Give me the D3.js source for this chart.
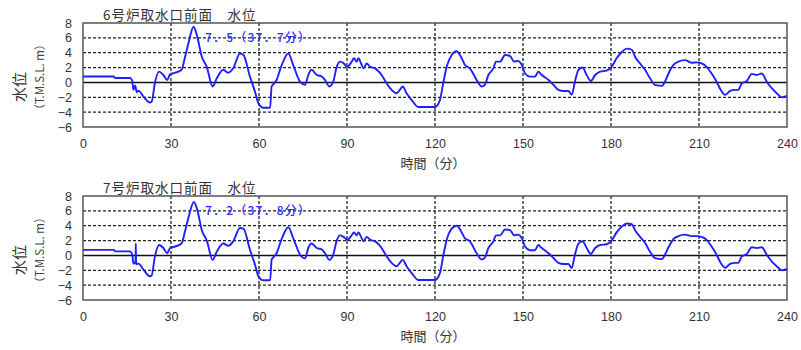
<!DOCTYPE html>
<html>
<head>
<meta charset="utf-8">
<script src="https://cdn.jsdelivr.net/npm/d3@7"></script>
<style>
  body { margin: 0; background: #fff; }
  svg text { font-family: "Liberation Sans", Arial, "Noto Sans CJK JP", sans-serif; fill: #333; }
  .jp { font-family: "Noto Sans CJK JP", sans-serif; }
</style>
</head>
<body>
<div id="vis"></div>
<script>
// time (minutes) and water level (T.M.S.L. m)
var unit6Time = [0, 10.5, 11, 16, 16.8, 17.2, 17.8, 18.3, 18.9, 20.6, 22.8, 23.4, 24.5, 25.9, 27.4, 28.7, 29.7, 31.4, 33.6, 34.8,
  35.9, 37.7, 38.8, 40.5, 42.2, 44.2, 45.6, 47.8, 49.5, 51.2, 53.5, 54.7, 56.9, 58.6, 59.8, 61.5, 63.8, 64.3, 64.8, 66.0,
  67.7, 70.0, 71.7, 74.0, 75.7, 76.8, 77.9, 79.7, 81.4, 82.5, 84.0, 85.3, 86.5, 87.6, 88.8, 90.1, 91.6, 92.4, 93.3, 93.9,
  94.8, 95.6, 96.7, 97.9, 99.6, 101.8, 103.5, 105.2, 106.9, 108, 109.0, 110.3, 112.0, 114.3, 120.0, 121.7, 122.8, 124.0, 125.7, 127.4,
  129.1, 130.2, 131.9, 134.2, 135.9, 137, 138.2, 139.9, 140.8, 142.2, 143.9, 145.6, 147.0, 148.2, 149.6, 150.7, 152.4, 154.1, 155.2, 156.4,
  158.7, 160.4, 162.1, 163.8, 165.5, 166.6, 167.7, 168.9, 170.3, 171.7, 173.1, 174.6, 176.3, 178.5, 180.2, 181.9, 183.7, 185.4, 187.1, 188.2,
  189.9, 191.6, 193.3, 195.0, 197.3, 198.4, 199.6, 201.3, 203.0, 205.2, 207.5, 209.4, 210.9, 212.6, 214.3, 216.0, 217.4, 218.9, 220.6, 222.3,
  223.4, 224.6, 226.3, 228.0, 229.7, 231.4, 233.1, 234.8, 236.5, 238.2, 240];
var unit6Level = [0.8, 0.8, 0.6, 0.6, 0.2, -1.0, -0.4, -1.3, -1.1, -1.9, -2.7, -2.6, -0.1, 1.45, 1.0, 0.33, 1.1, 1.3, 1.7, 3.45,
  5.2, 7.5, 6.4, 3.45, 2.1, -0.55, 0.55, 1.7, 1.3, 1.9, 3.9, 3.7, 0.8, -1.2, -2.8, -3.4, -3.4, -0.55, -0.3, 0.33,
  2.3, 3.9, 2.3, 0.1, -0.33, 1.0, 1.7, 1.0, 0.8, 0.33, -0.55, 0.1, 2.1, 2.8, 2.6, 2.1, 2.8, 3.25, 2.8, 3.25,
  2.55, 1.9, 2.55, 2.1, 1.9, 1.0, -0.1, -1.0, -1.45, -1.0, -0.55, -1.45, -2.35, -3.3, -3.3, -2.35, -0.1, 2.1, 3.7, 4.2,
  3.25, 2.35, 1.9, 0.33, -0.55, -0.3, 1.0, 1.9, 2.8, 2.8, 3.7, 3.55, 2.8, 2.9, 2.35, 1.2, 0.78, 0.78, 1.45, 1.0,
  0.33, -0.33, -1.0, -1.15, -1.15, -1.67, 0.1, 1.7, 2.0, 1.0, 0.2, 1.0, 1.45, 1.6, 2.1, 3.25, 4.1, 4.55, 4.4, 3.45,
  2.55, 1.7, 0.56, -0.33, -0.47, 0.1, 1.2, 2.35, 2.8, 3.0, 2.65, 2.7, 2.55, 2.1, 1.2, 0.1, -1.0, -1.67, -1.15, -1.0,
  -1.0, -0.1, 0.2, 1.15, 1.0, 1.2, 0.1, -0.78, -1.45, -2.0, -1.8];

var unit7Time = [0, 10.5, 11, 16, 16.8, 17.2, 17.9, 18.0, 18.1, 18.9, 20.6, 22.8, 23.4, 24.5, 25.9, 27.4, 28.7, 29.7, 31.4, 33.6, 34.8,
  35.9, 37.8, 38.9, 40.5, 42.2, 44.2, 45.6, 47.8, 49.5, 51.2, 53.5, 54.7, 56.9, 58.6, 59.8, 61.5, 63.8, 64.3, 64.8, 66.0,
  67.7, 70.0, 71.7, 74.0, 75.7, 76.8, 77.9, 79.7, 81.4, 82.5, 84.0, 85.3, 86.5, 87.6, 88.8, 90.1, 91.6, 92.4, 93.3, 93.9,
  94.8, 95.6, 96.7, 97.9, 99.6, 101.8, 103.5, 105.2, 106.9, 108, 109.0, 110.3, 112.0, 114.3, 120.0, 121.7, 122.8, 124.0, 125.7, 127.4,
  129.1, 130.2, 131.9, 134.2, 135.9, 137, 138.2, 139.9, 140.8, 142.2, 143.9, 145.6, 147.0, 148.2, 149.6, 150.7, 152.4, 154.1, 155.2, 156.4,
  158.7, 160.4, 162.1, 163.8, 165.5, 166.6, 167.7, 168.9, 170.3, 171.7, 173.1, 174.6, 176.3, 178.5, 180.2, 181.9, 183.7, 185.4, 187.1, 188.2,
  189.9, 191.6, 193.3, 195.0, 197.3, 198.4, 199.6, 201.3, 203.0, 205.2, 207.5, 209.4, 210.9, 212.6, 214.3, 216.0, 217.4, 218.9, 220.6, 222.3,
  223.4, 224.6, 226.3, 228.0, 229.7, 231.4, 233.1, 234.8, 236.5, 238.2, 240];
var unit7Level = [0.75, 0.75, 0.55, 0.55, 0.1, -1.1, -0.9, 1.6, -1.2, -1.1, -1.9, -2.8, -2.7, -0.2, 1.4, 1.0, 0.3, 1.0, 1.2, 1.6, 3.3,
  5.0, 7.2, 6.2, 3.4, 2.0, -0.6, 0.5, 1.6, 1.3, 1.9, 3.7, 3.6, 0.8, -1.2, -2.8, -3.35, -3.35, -0.6, -0.3, 0.3,
  2.2, 3.8, 2.3, 0.1, -0.4, 1.0, 1.6, 1.0, 0.8, 0.3, -0.6, 0.1, 2.0, 2.7, 2.5, 2.1, 2.7, 3.1, 2.7, 3.1,
  2.5, 1.9, 2.5, 2.1, 1.9, 1.0, -0.1, -1.0, -1.45, -1.0, -0.6, -1.45, -2.35, -3.3, -3.3, -2.35, -0.1, 2.1, 3.6, 4.0,
  3.1, 2.3, 1.9, 0.3, -0.55, -0.3, 1.0, 1.9, 2.7, 2.7, 3.5, 3.4, 2.7, 2.8, 2.3, 1.2, 0.7, 0.7, 1.4, 1.0,
  0.3, -0.35, -1.0, -1.15, -1.15, -1.7, 0.1, 1.6, 1.9, 1.0, 0.2, 1.0, 1.4, 1.5, 2.0, 3.1, 3.9, 4.3, 4.2, 3.4,
  2.5, 1.7, 0.5, -0.35, -0.5, 0.1, 1.1, 2.2, 2.6, 2.8, 2.6, 2.6, 2.5, 2.1, 1.2, 0.1, -1.0, -1.65, -1.15, -1.0,
  -1.0, -0.1, 0.2, 1.1, 1.0, 1.1, 0.1, -0.8, -1.45, -2.0, -1.8];

var xTicks = [0, 30, 60, 90, 120, 150, 180, 210, 240];
var yTicks = [-6, -4, -2, 0, 2, 4, 6, 8];

var panels = [
  {title: "6号炉取水口前面　水位", time: unit6Time, level: unit6Level, peakLabel: "7．5（37．7分）", top: 23},
  {title: "7号炉取水口前面　水位", time: unit7Time, level: unit7Level, peakLabel: "7．2（37．8分）", top: 196}
];

var margin = {left: 83, right: 14};
var width = 801 - margin.left - margin.right;
var height = 104;

var svg = d3.select("#vis").append("svg")
    .attr("width", 801)
    .attr("height", 350);

var xScale = d3.scaleLinear().domain([0, 240]).range([0, width]);
var yScale = d3.scaleLinear().domain([-6, 8]).range([height, 0]);

var line = d3.line()
    .curve(d3.curveMonotoneX)
    .x(function(d) { return xScale(d[0]); })
    .y(function(d) { return yScale(d[1]); });

panels.forEach(function(p) {
  var g = svg.append("g")
      .attr("transform", "translate(" + margin.left + "," + p.top + ")");

  // horizontal dashed grid
  g.selectAll(".hgrid").data(yTicks.filter(function(v) { return v != 0 && v != 8 && v != -6; }))
    .enter().append("line")
      .attr("x1", 0).attr("x2", width)
      .attr("y1", function(d) { return yScale(d); })
      .attr("y2", function(d) { return yScale(d); })
      .attr("stroke", "#222").attr("stroke-width", 1.3)
      .attr("stroke-dasharray", "3,2");

  // vertical dashed grid
  g.selectAll(".vgrid").data(xTicks.slice(1, -1))
    .enter().append("line")
      .attr("y1", 0).attr("y2", height)
      .attr("x1", function(d) { return xScale(d); })
      .attr("x2", function(d) { return xScale(d); })
      .attr("stroke", "#222").attr("stroke-width", 1.3)
      .attr("stroke-dasharray", "3,2");

  // zero line
  g.append("line")
    .attr("x1", 0).attr("x2", width)
    .attr("y1", yScale(0)).attr("y2", yScale(0))
    .attr("stroke", "#111").attr("stroke-width", 1.5);

  // frame
  g.append("rect")
    .attr("width", width).attr("height", height)
    .attr("fill", "none").attr("stroke", "#555").attr("stroke-width", 1.5);

  var pts = p.time.map(function(t, i) { return [t, p.level[i]]; });
  g.append("path")
    .datum(pts)
    .attr("d", line)
    .attr("fill", "none")
    .attr("stroke", "#1f1fff")
    .attr("stroke-width", 1.9)
    .attr("stroke-linejoin", "round");

  // peak label
  g.append("text")
    .attr("class", "jp")
    .attr("x", xScale(41.6))
    .attr("y", yScale(6.0))
    .attr("dy", "0.35em")
    .style("fill", "#2a2aff")
    .style("font-size", "12px")
    .style("font-weight", "500")
    .style("letter-spacing", "1.2px")
    .text(p.peakLabel);

  // axes labels
  var xAxis = d3.axisBottom(xScale).tickValues(xTicks).tickSize(0).tickPadding(12);
  g.append("g").attr("transform", "translate(0," + height + ")").call(xAxis)
    .call(function(a) { a.select(".domain").remove(); })
    .selectAll("text").style("font-size", "12.5px").style("fill", "#333");

  var yAxis = d3.axisLeft(yScale).tickValues(yTicks).tickSize(0).tickPadding(11)
      .tickFormat(function(d) { return d < 0 ? "\u2212" + Math.abs(d) : d; });
  g.append("g").call(yAxis)
    .call(function(a) { a.select(".domain").remove(); })
    .selectAll("text").style("font-size", "12.5px").style("fill", "#333");

  // title
  svg.append("text")
    .attr("class", "jp")
    .attr("x", 103)
    .attr("y", p.top - 3)
    .style("font-size", "13.5px")
    .style("letter-spacing", "1px")
    .text(p.title);

  // y labels
  svg.append("text")
    .attr("class", "jp")
    .attr("transform", "translate(25," + (p.top + 64) + ") rotate(-90)")
    .attr("text-anchor", "middle")
    .style("font-size", "15px")
    .text("水位");
  svg.append("text")
    .attr("class", "jp")
    .attr("transform", "translate(44," + (p.top + 54) + ") rotate(-90)")
    .attr("text-anchor", "middle")
    .style("font-size", "11.5px")
    .style("fill", "#444")
    .text("（T.M.S.L. m）");

  // x title
  svg.append("text")
    .attr("class", "jp")
    .attr("x", 433)
    .attr("y", p.top + height + 41)
    .attr("text-anchor", "middle")
    .style("font-size", "13px")
    .text("時間（分）");
});
</script>
</body>
</html>
